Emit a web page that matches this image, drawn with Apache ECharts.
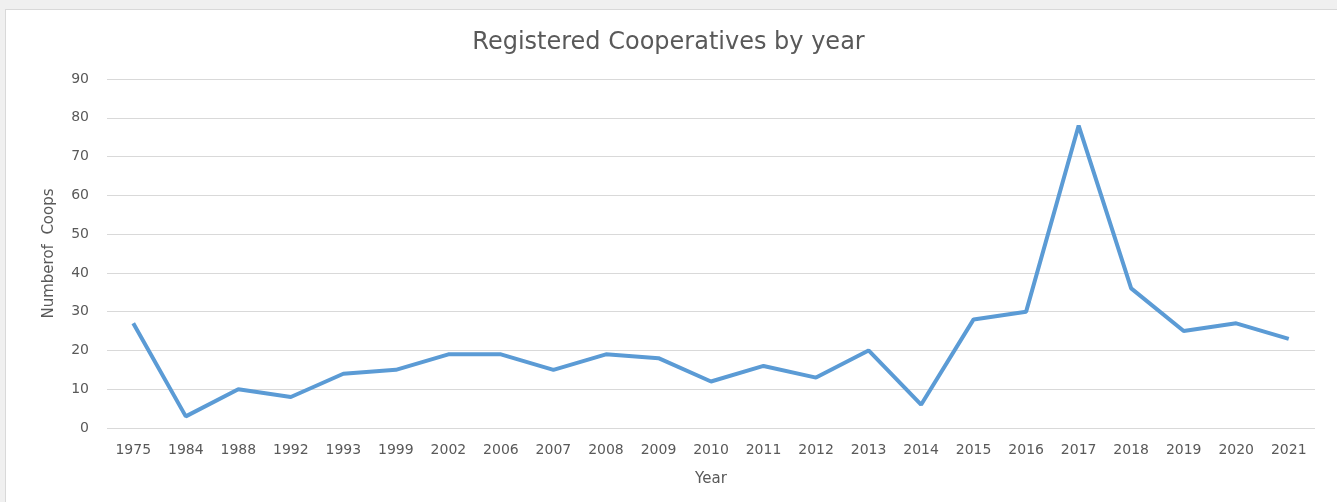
<!DOCTYPE html>
<html>
<head>
<meta charset="utf-8">
<script src="https://cdn.jsdelivr.net/npm/echarts@6/dist/echarts.min.js"></script>
<style>
    html, body { margin: 0; padding: 0; background: #f0f0f0; }
    #card {
        position: absolute; left: 5px; top: 9px; width: 1340px; height: 500px;
        background: #fff; border: 1px solid #d9d9d9;
    }
    #main { position: absolute; left: 0; top: 0; width: 1337px; height: 502px; }
</style>
</head>
<body>
<div id="card"></div>
<div id="main"></div>
<script>
// 年份与注册合作社数量
const years = ['1975', '1984', '1988', '1992', '1993', '1999', '2002', '2006', '2007', '2008', '2009',
    '2010', '2011', '2012', '2013', '2014', '2015', '2016', '2017', '2018', '2019', '2020', '2021'];
const coops = [27, 3, 10, 8, 14, 15, 19, 19, 15, 19, 18, 12, 16, 13, 20, 6, 28, 30, 78, 36, 25, 27, 23];

const textColor = '#595959';
const fontName = '"DejaVu Sans", sans-serif';

let myChart = echarts.init(document.getElementById('main'));

let option = {
    title: {
        text: 'Registered Cooperatives by year',
        left: 'center',
        top: 26,
        textStyle: {
            color: textColor,
            fontSize: 24,
            fontWeight: 'normal',
            fontFamily: fontName
        }
    },
    grid: {
        left: 107,
        right: 22,
        top: 79,
        bottom: 74
    },
    xAxis: {
        type: 'category',
        data: years,
        boundaryGap: true,
        name: 'Year',
        nameLocation: 'middle',
        nameGap: 44,
        nameTextStyle: { color: textColor, fontSize: 15, fontFamily: fontName },
        axisLine: { show: false },
        axisTick: { show: false },
        axisLabel: { color: textColor, fontSize: 14, margin: 15, fontFamily: fontName, interval: 0 }
    },
    yAxis: {
        type: 'value',
        min: 0,
        max: 90,
        interval: 10,
        name: 'Numberof  Coops',
        nameLocation: 'middle',
        nameGap: 50,
        nameTextStyle: { color: textColor, fontSize: 15, fontFamily: fontName },
        axisLabel: { color: textColor, fontSize: 14, margin: 18, fontFamily: fontName },
        splitLine: { lineStyle: { color: '#d9d9d9', width: 1 } }
    },
    series: [
        {
            type: 'line',
            data: coops,
            showSymbol: false,
            symbol: 'none',
            lineStyle: { color: '#5b9bd5', width: 4 },
            itemStyle: { color: '#5b9bd5' }
        }
    ]
};

myChart.setOption(option);
</script>
</body>
</html>
